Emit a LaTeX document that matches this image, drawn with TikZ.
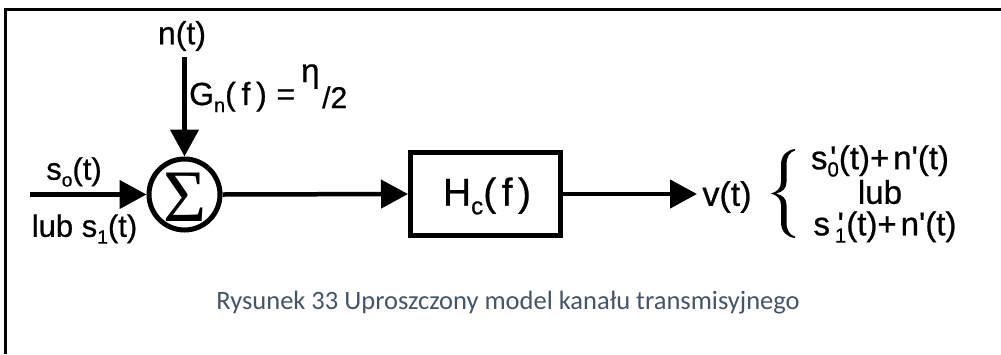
\documentclass[tikz,border=0pt]{standalone}
\usepackage{fontspec}
\setmainfont{Liberation Sans}[FakeBold=0.7,Ligatures=TeXOff]
\newfontfamily\capfont{Carlito}
\newfontfamily\serifsym{Liberation Serif}
\usetikzlibrary{arrows.meta}
\definecolor{capblue}{HTML}{44546A}
% straight prime
\newcommand\pr{'}
% lowered subscript, scaled from the current size
\newcommand\lowsub[1]{\raisebox{-0.22em}{\scalebox{0.62}{#1}}}
% prime stacked over a subscript, as in s'_0
\newcommand\primesub[1]{\makebox[0pt][l]{\hspace{0.08em}\pr}\lowsub{#1}}
\tikzset{
  wire/.style={line width=4.5pt,-{Triangle[length=27pt,width=28pt]}},
  block/.style={draw,line width=5pt,minimum width=150pt,minimum height=83pt,inner sep=0pt},
  summer/.style={draw,circle,line width=5pt,minimum size=71pt,inner sep=0pt},
  lbl/.style={inner sep=0pt,font=\fontsize{32}{34}\selectfont},
}
\begin{document}
\begin{tikzpicture}[x=1pt,y=-1pt]
\useasboundingbox (0,0) rectangle (1001,354);
% frame
\draw[line width=3pt] (5.5,354) -- (5.5,9) -- (1001,9);

% blocks
\node[summer] (sum) at (184.5,194.5) {};
\node[inner sep=0pt,font=\fontsize{74}{74}\serifsym] (sigma) at (185,197) {Σ};
\node[block] (chan) at (485.5,194) {};
\node[lbl,font=\fontsize{39}{42}\selectfont] (hc) at (487,196) {H\lowsub{c}(\hspace{0.14em}f\hspace{0.14em})};

% connectors
\coordinate (in) at (30,194.5);
\coordinate (noise) at (184.5,57);
\coordinate (out) at (697,194);
\draw[wire] (in) -- (sum.west);
\draw[wire] (noise) -- (sum.north);
\draw[wire] (sum.east) -- (chan.west);
\draw[wire] (chan.east) -- (out);

% labels
\node[lbl] (nt) at (182,36) {n(t)};
\node[lbl,anchor=base west] (gn) at (189,105) {G\lowsub{n}(\hspace{0.18em}f\hspace{0.18em})\hspace{0.3em}=};
\node[lbl,anchor=base west,font=\fontsize{33}{34}\selectfont] (eta) at (301,82) {η};
\node[lbl,anchor=base west,font=\fontsize{30}{32}\selectfont] (half) at (322,108) {/2};
\node[lbl,font=\fontsize{31}{33}\selectfont] (s0) at (74,172) {s\lowsub{o}(t)};
\node[lbl,font=\fontsize{31}{33}\selectfont] (s1) at (84.5,229) {lub s\lowsub{1}(t)};
\node[lbl,font=\fontsize{34}{36}\selectfont] (vt) at (727,197) {v(t)};

% received signal alternatives: a tapered curly brace
\fill (795,149) .. controls (787,150) and (781,155) .. (781,165) -- (781,182)
  .. controls (781,188) and (777,192) .. (771,193.5)
  .. controls (777,195) and (781,199) .. (781,205) -- (781,222)
  .. controls (781,232) and (787,237) .. (795,238)
  -- (795,236.5) .. controls (790,235) and (786.5,231) .. (786.5,222) -- (786.5,205)
  .. controls (786.5,199) and (783,195) .. (776,193.5)
  .. controls (783,192) and (786.5,188) .. (786.5,182) -- (786.5,165)
  .. controls (786.5,156) and (790,152) .. (795,150.5) -- cycle;
\node[lbl,font=\fontsize{33}{35}\selectfont] (r0) at (880,161) {s\primesub{0}(t)+\hspace{0.12em}n\pr(t)};
\node[lbl,font=\fontsize{33}{35}\selectfont] (lub) at (880,192) {lub};
\node[lbl,font=\fontsize{33}{35}\selectfont] (r1) at (885,227) {s\hspace{0.15em}\primesub{1}(t)+\hspace{0.12em}n\pr(t)};

% caption
\node[inner sep=0pt,text=capblue,font=\capfont\fontsize{26.5}{28}\selectfont] (cap) at (508,303)
  {Rysunek 33 Uproszczony model kanału transmisyjnego};
\end{tikzpicture}
\end{document}
